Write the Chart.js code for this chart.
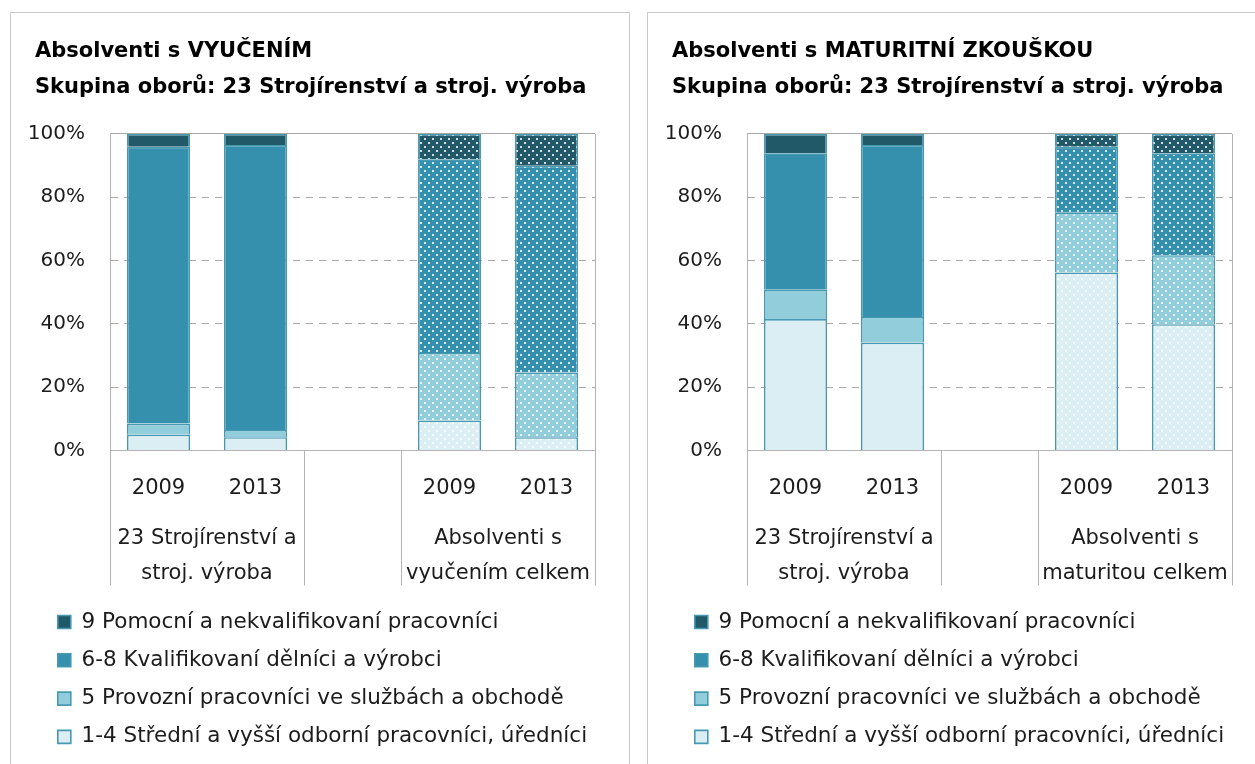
<!DOCTYPE html>
<html><head><meta charset="utf-8">
<script src="https://cdn.jsdelivr.net/npm/chart.js@4/dist/chart.umd.min.js"></script>
<style>
html,body{margin:0;padding:0;background:#fff;width:1255px;height:764px;overflow:hidden}
.panel{position:absolute;top:12px;width:618px;height:780px;border:1px solid #cacaca;background:#fff}
#p1{left:10px}
#p2{left:647px}
canvas{display:block}
</style></head><body>
<div class="panel" id="p1"><canvas id="c1" width="618" height="751"></canvas></div>
<div class="panel" id="p2"><canvas id="c2" width="618" height="751"></canvas></div>
<script>
// ---- data ----
const categories = ['2009', '2013', '', '2009', '2013'];
const seriesNames = [
  '1-4 Střední a vyšší odborní pracovníci, úředníci',
  '5 Provozní pracovníci ve službách a obchodě',
  '6-8 Kvalifikovaní dělníci a výrobci',
  '9 Pomocní a nekvalifikovaní pracovníci'
];
const yTicks = [0, 20, 40, 60, 80, 100];

const titleVyuc = ['Absolventi s VYUČENÍM', 'Skupina oborů: 23 Strojírenství a stroj. výroba'];
const groupsVyuc = [['23 Strojírenství a', 'stroj. výroba'], [''], ['Absolventi s', 'vyučením celkem']];
const vyuc14 = [5.0, 4.2, null, 9.5, 4.2];
const vyuc5 = [3.5, 2.3, null, 21.3, 20.4];
const vyuc68 = [87.5, 90.0, null, 61.2, 65.4];
const vyuc9 = [4.0, 3.5, null, 8.0, 10.0];

const titleMat = ['Absolventi s MATURITNÍ ZKOUŠKOU', 'Skupina oborů: 23 Strojírenství a stroj. výroba'];
const groupsMat = [['23 Strojírenství a', 'stroj. výroba'], [''], ['Absolventi s', 'maturitou celkem']];
const mat14 = [41.5, 34.1, null, 56.2, 39.9];
const mat5 = [9.4, 8.1, null, 18.9, 21.8];
const mat68 = [43.0, 54.3, null, 20.9, 32.2];
const mat9 = [6.1, 3.5, null, 4.0, 6.1];

// ---- styles ----
const colors = ['#daeef3', '#92cddc', '#3590ad', '#215968'];
const barBorder = '#4799b2';
const gridGrey = '#a8a8a8';
const axisGrey = '#b4b4b4';
const textColor = '#1c1c1c';
const FONT = '"DejaVu Sans", Verdana, sans-serif';

function makePattern(base) {
  const c = document.createElement('canvas');
  c.width = 8; c.height = 8;
  const g = c.getContext('2d');
  g.fillStyle = base; g.fillRect(0, 0, 8, 8);
  g.fillStyle = 'rgba(255,255,255,0.8)';
  g.fillRect(1, 1, 2, 2);
  g.fillRect(5, 5, 2, 2);
  return g.createPattern(c, 'repeat');
}
const patterns = colors.map(makePattern);

const placeBlocks = {
  id: 'placeBlocks',
  afterLayout(chart) {
    const t = chart.titleBlock;
    if (t) { const w = t.right - t.left; t.left = 24; t.right = 24 + w; }
    const l = chart.legend;
    if (l) { const w = l.right - l.left; l.left = 30; l.right = 30 + w; }
  }
};

function build(canvasId, title, groups, series) {
  const datasets = series.map((vals, k) => ({
    label: seriesNames[k],
    data: vals,
    backgroundColor: (ctx) => (ctx.dataIndex >= 3 ? patterns[k] : colors[k]),
    borderColor: barBorder,
    borderWidth: 1.6,
    categoryPercentage: 1.0,
    barPercentage: 0.65
  }));
  return new Chart(document.getElementById(canvasId), {
    type: 'bar',
    data: { labels: categories, datasets },
    plugins: [placeBlocks],
    options: {
      responsive: false,
      animation: false,
      layout: { padding: { left: 14, right: 34, top: 0, bottom: 6.35 } },
      plugins: {
        title: {
          display: true, text: title, align: 'start', color: '#000',
          font: { family: FONT, size: 21, weight: 'bold', lineHeight: 1.714 },
          padding: { top: 21, bottom: 28 }
        },
        legend: {
          position: 'bottom', align: 'start', reverse: true,
          labels: {
            color: textColor, boxWidth: 13, boxHeight: 13, padding: 16.8,
            font: { family: FONT, size: 21.5 }
          }
        },
        tooltip: { enabled: false }
      },
      scales: {
        x: {
          stacked: true,
          position: 'bottom',
          afterFit: (s) => { s.height = 50; },
          grid: {
            offset: true, drawOnChartArea: true, drawTicks: true, tickLength: 135,
            color: (ctx) => (ctx.type !== 'tick' || ctx.index === 0) ? axisGrey : 'transparent',
            tickColor: (ctx) => (ctx.type !== 'tick' || ctx.index === 0 || ctx.index === 2 || ctx.index === 3) ? axisGrey : 'transparent'
          },
          border: { display: true, color: axisGrey },
          ticks: {
            color: textColor, padding: -110, maxRotation: 0, autoSkip: false,
            font: { family: FONT, size: 21, lineHeight: 1.2 }
          }
        },
        x2: {
          type: 'linear', position: 'bottom', min: -0.5, max: 4.5, offset: false,
          afterFit: (s) => { s.height = 94; },
          afterBuildTicks: (ax) => { ax.ticks = [{ value: 0.5 }, { value: 2 }, { value: 3.5 }]; },
          grid: { display: false, drawTicks: false, offset: false },
          border: { display: false },
          ticks: {
            color: textColor, padding: 21, maxRotation: 0, autoSkip: false,
            font: { family: FONT, size: 21, lineHeight: 1.65 },
            callback: (v, i) => groups[i]
          }
        },
        y: {
          stacked: true, min: 0, max: 100,
          afterFit: (s) => { s.width = 85; },
          afterBuildTicks: (ax) => { ax.ticks = yTicks.map((v) => ({ value: v })); },
          grid: {
            color: (ctx) => (ctx.tick && ctx.tick.value === 0) ? axisGrey : gridGrey,
            drawTicks: false
          },
          border: {
            display: true, color: axisGrey,
            dash: (ctx) => (ctx.tick && ctx.tick.value > 0 && ctx.tick.value < 100) ? [7, 6] : []
          },
          ticks: {
            color: textColor, padding: 25,
            font: { family: FONT, size: 20 },
            callback: (v) => v + '%'
          }
        }
      }
    }
  });
}

build('c1', titleVyuc, groupsVyuc, [vyuc14, vyuc5, vyuc68, vyuc9]);
build('c2', titleMat, groupsMat, [mat14, mat5, mat68, mat9]);
</script>
</body></html>
